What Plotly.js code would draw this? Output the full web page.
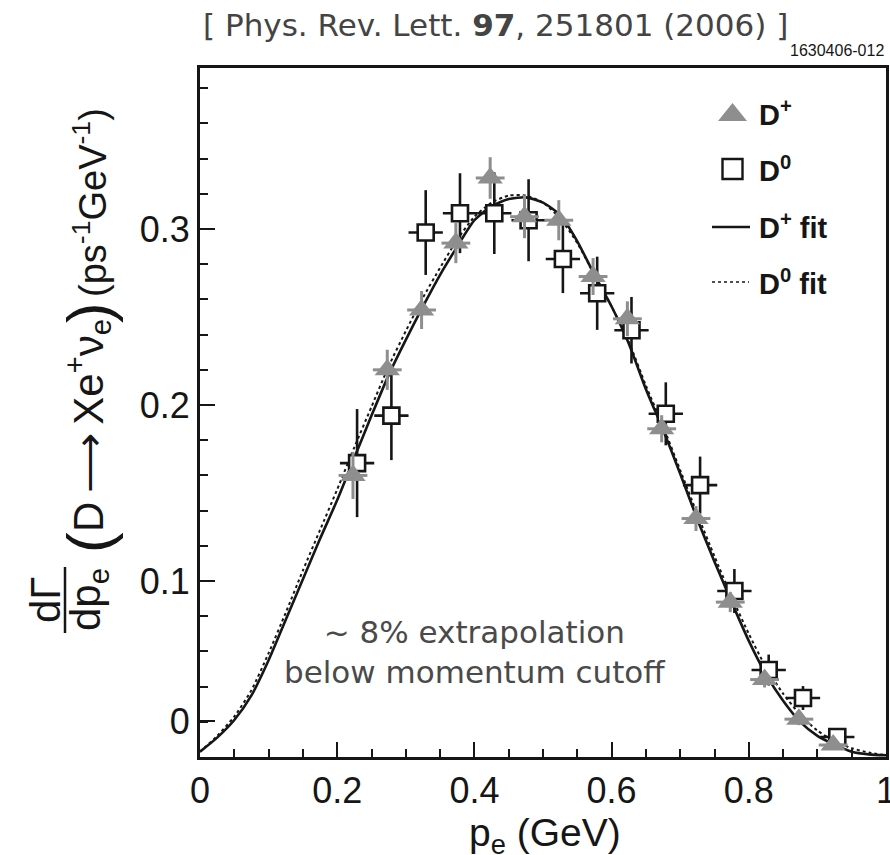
<!DOCTYPE html>
<html><head><meta charset="utf-8">
<script src="https://cdn.plot.ly/plotly-3.0.1.min.js"></script>
<style>html,body{margin:0;padding:0;background:#fff}#chart{width:890px;height:855px}</style>
</head><body><div id="chart"></div>
<script>
// ---- data ----
const fitP  = [0,0.025,0.05,0.075,0.1,0.125,0.15,0.175,0.2,0.225,0.25,0.275,0.3,0.325,0.35,0.375,0.4,0.425,0.45,0.475,0.5,0.525,0.55,0.575,0.6,0.625,0.65,0.675,0.7,0.725,0.75,0.775,0.8,0.825,0.85,0.875,0.9,0.925,0.95,0.975,1.0];
const fitDp = [0.003,0.011,0.021,0.035,0.055,0.078,0.101,0.124,0.146,0.170,0.194,0.217,0.237,0.256,0.274,0.290,0.305,0.313,0.317,0.318,0.315,0.308,0.293,0.274,0.256,0.235,0.209,0.186,0.161,0.135,0.111,0.088,0.066,0.047,0.032,0.020,0.012,0.007,0.003,0.0015,0.001];
const fitD0 = [0.003,0.012,0.023,0.038,0.059,0.082,0.106,0.129,0.152,0.176,0.199,0.222,0.242,0.261,0.278,0.294,0.307,0.315,0.319,0.319,0.315,0.306,0.292,0.274,0.256,0.236,0.211,0.188,0.163,0.138,0.114,0.091,0.070,0.051,0.036,0.024,0.015,0.009,0.005,0.0025,0.001];

const xDp = [0.223,0.273,0.323,0.373,0.423,0.473,0.523,0.573,0.623,0.673,0.723,0.773,0.823,0.873,0.923];
const yDp = [0.160,0.220,0.254,0.292,0.329,0.307,0.305,0.273,0.249,0.1865,0.1355,0.088,0.044,0.0215,0.0068];
const eDp = [0.0134,0.0114,0.0108,0.0114,0.0118,0.0122,0.0114,0.0105,0.0099,0.0077,0.0071,0.0057,0.0045,0.0034,0.0028];
const xErrDp = 0.021;

const xD0 = [0.229,0.279,0.329,0.379,0.429,0.479,0.529,0.579,0.629,0.679,0.729,0.779,0.829,0.879,0.929];
const yD0 = [0.167,0.194,0.298,0.309,0.309,0.305,0.283,0.2635,0.2425,0.195,0.1545,0.0943,0.0494,0.0335,0.0114];
const eD0 = [0.0307,0.0253,0.0241,0.0227,0.0232,0.0233,0.0194,0.0208,0.0189,0.0179,0.0162,0.0125,0.0088,0.0068,0.0043];
const xErrD0 = 0.025;

const xTickVals = [0,0.2,0.4,0.6,0.8,1];
const xTickText = ['0','0.2','0.4','0.6','0.8','1'];
const yTickVals = [0.0205,0.1,0.2,0.3];
const yTickText = ['0','0.1','0.2','0.3'];
const xTitle = 'p<sub>e</sub> (GeV)';
const legendLabels = ['<b>D<sup>+</sup></b>','<b>D<sup>0</sup></b>','<b>D<sup>+</sup> fit</b>','<b>D<sup>0</sup> fit</b>'];

// ---- layout helpers (pixel -> paper) ----
const L = 200, R = 4, T = 68, B = 98, W = 890, H = 855;
const PW = W - L - R, PH = H - T - B;
const X = px => (px - L) / PW;
const Y = py => (H - B - py) / PH;

const ARIAL = 'Liberation Sans, Arial, Helvetica, sans-serif';
const DV = 'DejaVu Sans, Verdana, sans-serif';
const INK = '#161616';
const GRAY = '#8e8e8e';

const traces = [
  {x: fitP, y: fitD0, mode: 'lines', line: {color: INK, width: 2, dash: 'dot', shape: 'spline', smoothing: 0.6}, hoverinfo: 'skip'},
  {x: fitP, y: fitDp, mode: 'lines', line: {color: INK, width: 2.6, shape: 'spline', smoothing: 0.6}, hoverinfo: 'skip'},
  {x: xD0, y: yD0, mode: 'markers',
   error_y: {type: 'data', array: eD0, color: INK, thickness: 2.6, width: 0},
   error_x: {type: 'constant', value: xErrD0, color: INK, thickness: 2.6, width: 0},
   marker: {symbol: 'square', size: 16, color: '#fff', line: {color: INK, width: 2.6}}},
  {x: xDp, y: yDp, mode: 'markers',
   error_y: {type: 'data', array: eDp, color: GRAY, thickness: 3, width: 0},
   error_x: {type: 'constant', value: xErrDp, color: GRAY, thickness: 3, width: 0},
   marker: {symbol: 'triangle-up', size: 22, color: GRAY, line: {width: 0}}}
];

const shapes = [
  // legend glyphs
  {type: 'path', xref: 'paper', yref: 'paper',
   path: `M ${X(718)},${Y(121)} L ${X(747)},${Y(121)} L ${X(732.5)},${Y(103)} Z`,
   fillcolor: GRAY, line: {width: 0}},
  {type: 'rect', xref: 'paper', yref: 'paper', x0: X(722.5), x1: X(742.5), y0: Y(179), y1: Y(159),
   fillcolor: '#fff', line: {color: INK, width: 2.4}},
  {type: 'line', xref: 'paper', yref: 'paper', x0: X(712), x1: X(750), y0: Y(227), y1: Y(227),
   line: {color: INK, width: 2.4}},
  {type: 'line', xref: 'paper', yref: 'paper', x0: X(712), x1: X(749), y0: Y(282), y1: Y(282),
   line: {color: INK, width: 1.5, dash: 'dot'}},
  // fraction bar of the y title
  {type: 'line', xref: 'paper', yref: 'paper', x0: X(65), x1: X(65), y0: Y(567), y1: Y(633),
   line: {color: INK, width: 2.5}}
];

function ann(px, py, text, size, family, opts) {
  return Object.assign({xref: 'paper', yref: 'paper', x: X(px), y: Y(py), text: text, showarrow: false,
    xanchor: 'center', yanchor: 'middle', font: {size: size, family: family, color: INK}}, opts || {});
}

const annotations = [
  ann(495, 25, '[ Phys. Rev. Lett. <b>97</b>, 251801 (2006) ]', 31, DV, {font: {size: 31, family: DV, color: '#444'}}),
  ann(886, 51, '1630406-012', 16, 'Liberation Sans Narrow, Arial Narrow, ' + ARIAL, {xanchor: 'right'}),
  ann(474, 652, '~ 8% extrapolation<br>below momentum cutoff', 31, DV, {font: {size: 31, family: DV, color: '#4a4a4a'}}),
  // x-axis title
  ann(545, 835, xTitle, 39, ARIAL),
  // legend text
  ann(757, 113, legendLabels[0], 29, ARIAL, {xanchor: 'left'}),
  ann(757, 169, legendLabels[1], 29, ARIAL, {xanchor: 'left'}),
  ann(757, 226, legendLabels[2], 29, ARIAL, {xanchor: 'left'}),
  ann(757, 282, legendLabels[3], 29, ARIAL, {xanchor: 'left'}),
  // y-axis title pieces
  ann(45, 600, 'dΓ', 42, ARIAL, {textangle: -90}),
  ann(88, 600, 'dp<sub>e</sub>', 42, ARIAL, {textangle: -90}),
  ann(88, 543, '(', 62, ARIAL, {textangle: -90}),
  ann(87, 426, 'D\u2009⟶\u2009Xe<sup>+</sup>ν<sub>e</sub>', 42, ARIAL, {textangle: -90}),
  ann(88, 313, ')', 62, ARIAL, {textangle: -90}),
  ann(90, 203, '(ps<sup>-1</sup>GeV<sup>-1</sup>)', 38, ARIAL, {textangle: -90})
];

const layout = {
  width: W, height: H,
  margin: {l: L, r: R, t: T, b: B, pad: 0},
  paper_bgcolor: '#fff', plot_bgcolor: '#fff',
  showlegend: false,
  xaxis: {
    range: [0, 1], showgrid: false, zeroline: false,
    showline: true, mirror: true, linecolor: INK, linewidth: 3,
    ticks: 'inside', ticklen: 15, tickwidth: 2, tickcolor: INK,
    tickmode: 'array', tickvals: xTickVals, ticktext: xTickText,
    ticklabeloverflow: 'allow',
    minor: {tickmode: 'linear', tick0: 0, dtick: 0.05, ticks: 'inside', ticklen: 8, tickwidth: 2, tickcolor: INK},
    tickfont: {size: 36, family: ARIAL, color: INK}
  },
  yaxis: {
    range: [0, 0.3915], showgrid: false, zeroline: false,
    showline: true, mirror: true, linecolor: INK, linewidth: 3,
    ticks: 'inside', ticklen: 15, tickwidth: 2, tickcolor: INK,
    tickmode: 'array', tickvals: yTickVals, ticktext: yTickText,
    minor: {tickmode: 'linear', tick0: 0, dtick: 0.02, ticks: 'inside', ticklen: 8, tickwidth: 2, tickcolor: INK},
    tickfont: {size: 36, family: ARIAL, color: INK}
  },
  shapes: shapes,
  annotations: annotations
};

Plotly.newPlot('chart', traces, layout, {staticPlot: true, displayModeBar: false});
</script></body></html>
